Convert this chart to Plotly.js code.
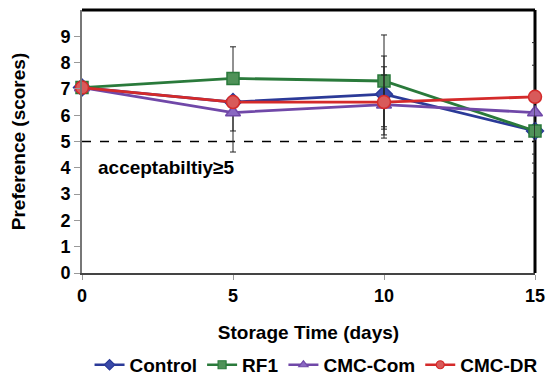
<!DOCTYPE html>
<html>
<head>
<meta charset="utf-8">
<script src="https://cdn.plot.ly/plotly-3.0.1.min.js"></script>
<style>html,body{margin:0;padding:0;background:#fff;}#chart{width:546px;height:375px;}</style>
</head>
<body>
<div id="chart"></div>
<script>
// Data
const days = [0, 5, 10, 15];
const control = [7.05, 6.5, 6.8, 5.4];
const rf1 = [7.05, 7.4, 7.3, 5.4];
const cmcCom = [7.05, 6.1, 6.4, 6.1];
const cmcDR = [7.05, 6.5, 6.5, 6.7];
// Error bars (upper / lower)
const controlErrPlus = [0, 0.1, 1.45, 0.1];
const controlErrMinus = [0, 1.1, 1.55, 0.88];
const rf1ErrPlus = [0, 1.2, 1.75, 0.1];
const rf1ErrMinus = [0, 0.1, 2.17, 1.6];
const cmcComErrPlus = [0, 0.1, 1.44, 1.8];
const cmcComErrMinus = [0, 1.5, 0.84, 1.92];
const cmcDRErrPlus = [0, 0.1, 1.03, 2.06];
const cmcDRErrMinus = [0, 0.1, 1.03, 3.81];
const seriesNames = ['Control', 'RF1', 'CMC-Com', 'CMC-DR'];
const yTicks = [0, 1, 2, 3, 4, 5, 6, 7, 8, 9];
const xTicks = [0, 5, 10, 15];
const threshold = 5;

const FONT = '"Liberation Sans", Arial, sans-serif';
const styles = [
  {line: '#2B3A98', fill: '#3a4aa8', symbol: 'diamond', size: 13},
  {line: '#2A7A3B', fill: '#4F9258', symbol: 'square', size: 12},
  {line: '#7048A8', fill: '#8A68C2', symbol: 'triangle-up', size: 13},
  {line: '#D42A2A', fill: '#D85A5A', symbol: 'circle', size: 13}
];
const ys = [control, rf1, cmcCom, cmcDR];
const eps = [controlErrPlus, rf1ErrPlus, cmcComErrPlus, cmcDRErrPlus];
const ems = [controlErrMinus, rf1ErrMinus, cmcComErrMinus, cmcDRErrMinus];

const traces = [];
ys.forEach((y, i) => {
  const s = styles[i];
  traces.push({
    type: 'scatter', mode: 'lines+markers', name: seriesNames[i], x: days, y: y,
    cliponaxis: false, showlegend: false,
    line: {color: s.line, width: 2.8},
    marker: {symbol: s.symbol, size: s.size, color: s.fill, line: {color: s.line, width: 1.5}},
    error_y: {type: 'data', symmetric: false, array: eps[i], arrayminus: ems[i],
              color: '#222', thickness: 1, width: 3}
  });
});
// legend entries with smaller markers, as in the reference
ys.forEach((y, i) => {
  const s = styles[i];
  traces.push({
    type: 'scatter', mode: 'lines+markers', name: seriesNames[i], x: [null], y: [null],
    showlegend: true, hoverinfo: 'skip',
    line: {color: s.line, width: 2.5},
    marker: {symbol: s.symbol, size: 8, color: s.fill, line: {color: s.line, width: 1.2}}
  });
});

const layout = {
  width: 546, height: 375,
  margin: {l: 82, r: 11, t: 10, b: 102},
  paper_bgcolor: '#fff', plot_bgcolor: '#fff',
  font: {family: FONT, size: 19, color: '#000'},
  showlegend: true,
  legend: {orientation: 'h', x: 0.164, xanchor: 'left', xref: 'container',
           y: 0.027, yanchor: 'middle', yref: 'container',
           font: {family: FONT, size: 19, color: '#000', weight: 'bold'},
           itemwidth: 30, traceorder: 'normal'},
  xaxis: {
    range: [0, 15], tickvals: xTicks, ticktext: xTicks.map(v => '<b>' + v + '</b>'),
    showgrid: false, zeroline: false,
    showline: true, linecolor: '#444', linewidth: 2,
    ticks: 'outside', ticklen: 5, tickcolor: '#999', tickwidth: 1,
    tickfont: {family: FONT, size: 18, color: '#000'},
    title: {text: '<b>Storage Time (days)</b>', font: {family: FONT, size: 19, color: '#000'}, standoff: 21}
  },
  yaxis: {
    range: [0, 10], tickvals: yTicks, ticktext: yTicks.map(v => '<b>' + v + '</b>'),
    showgrid: false, zeroline: false,
    showline: true, linecolor: '#777', linewidth: 2,
    ticks: 'outside', ticklen: 6, tickcolor: '#999', tickwidth: 1,
    tickfont: {family: FONT, size: 18, color: '#000'},
    title: {text: '<b>Preference (scores)</b>', font: {family: FONT, size: 19, color: '#000'}, standoff: 30}
  },
  shapes: [
    {type: 'line', xref: 'paper', yref: 'y', x0: 0, x1: 1, y0: threshold, y1: threshold,
     line: {color: '#000', width: 1.5, dash: 'dash'}, layer: 'below'},
    {type: 'line', xref: 'paper', yref: 'paper', x0: 0, x1: 1, y0: 1, y1: 1,
     line: {color: '#000', width: 3}, layer: 'above'},
    {type: 'line', xref: 'paper', yref: 'paper', x0: 1, x1: 1, y0: 0, y1: 1,
     line: {color: '#000', width: 3}, layer: 'below'}
  ],
  annotations: [
    {xref: 'x', yref: 'y', x: 0.45, y: 4.0, xanchor: 'left', yanchor: 'middle',
     text: '<b>acceptabiltiy≥' + threshold + '</b>', showarrow: false,
     font: {family: FONT, size: 19, color: '#000'}}
  ]
};

Plotly.newPlot('chart', traces, layout, {displayModeBar: false, staticPlot: true});
</script>
</body>
</html>
